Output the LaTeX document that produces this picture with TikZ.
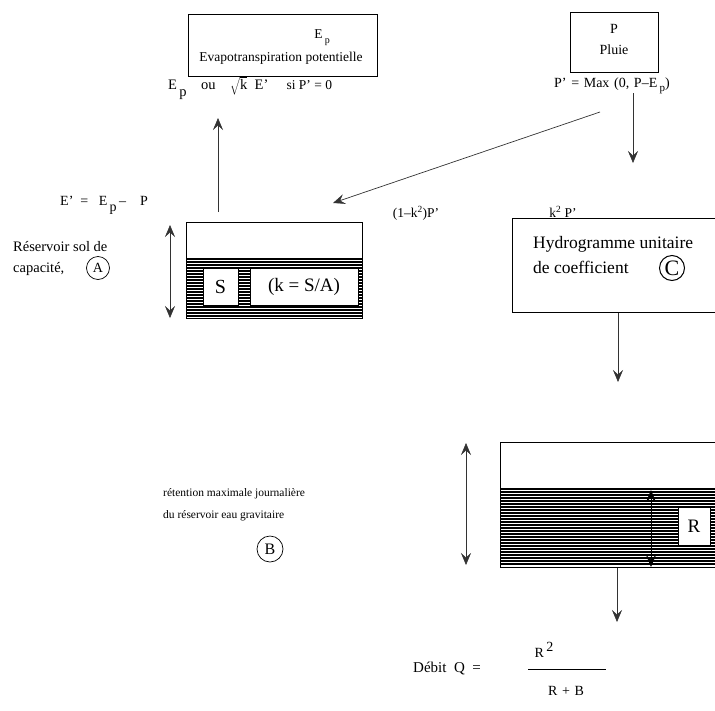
\documentclass[tikz,border=0pt]{standalone}
\usepackage{fontspec}
\setmainfont{Liberation Serif}
\usetikzlibrary{arrows.meta}
\newcommand{\fs}[1]{\fontsize{#1}{#1}\selectfont}
\begin{document}
\begin{tikzpicture}[x=1pt,y=-1pt,
  every node/.style={font=\fs{13.5}, inner sep=0pt},
  boxline/.style={draw=black, line width=0.8pt},
  thinarrow/.style={draw=black!80, line width=0.5pt, -{Stealth[length=12pt,width=10pt,inset=4.5pt]}},
  dblarrow/.style={draw=black!80, line width=0.5pt, {Stealth[length=12pt,width=10pt,inset=4.5pt]}-{Stealth[length=12pt,width=10pt,inset=4.5pt]}},
  whitebox/.style={draw=black, line width=0.6pt, fill=white},
  lab/.style={circle, draw=black, line width=0.7pt, minimum size=23pt, inner sep=0pt}
]
\useasboundingbox (0,0) rectangle (715,710);
\clip (0,0) rectangle (715,710);
% --- top boxes
\node[boxline, minimum width=189pt, minimum height=62pt] (ep) at (282.5,45) {};
\node (eptxt) at (322,38) {E\,\raisebox{-5pt}{\fs{10}p}};
\node (evap) at (281,58) {Evapotranspiration potentielle};
\node[boxline, minimum width=88pt, minimum height=60pt] (pbox) at (614,42) {};
\node[font=\fs{14}] (ptxt) at (614,29) {P};
\node[font=\fs{14}] (pluie) at (614,50) {Pluie};
\node[font=\fs{14}] (pprime) at (612,86) {P'\,\,=\,\,Max\,\,(0,\,\,P--E\,\raisebox{-4pt}{\fs{11}p})};
\node[font=\fs{14.5}, anchor=west] (eptop) at (168,88) {E\,\raisebox{-7pt}{p}\quad ou\quad $\sqrt{\mathrm{k}\vphantom{|}}$\ \ E'\quad\ \fs{13.5}si P' = 0};
% --- arrows from top
\coordinate (evapbot) at (218,212);
\coordinate (evaptip) at (218,118);
\draw[thinarrow] (evapbot) -- (evaptip);
\coordinate (pstart) at (600,112);
\coordinate (ptoA) at (333,203);
\draw[thinarrow, line width=0.7pt] (pstart) -- (ptoA);
\coordinate (pdown0) at (633,93);
\coordinate (pdown1) at (633,163);
\draw[thinarrow] (pdown0) -- (pdown1);
\node[font=\fs{14}, anchor=west] (eprime) at (60,205) {E'\ \ =\ \ \ E\,\raisebox{-6pt}{p}\,--\ \ \ \ P};
\node (onemk) at (416,213) {(1--k\textsuperscript{2})P'};
\node (k2p) at (563,212) {k\textsuperscript{2} P'};
% --- soil reservoir
\draw[boxline] (186,222) rectangle (362,318);
\foreach \y in {259,262,...,317} \draw[line width=1.5pt] (186,\y) -- (362,\y);
\node[whitebox, minimum width=35pt, minimum height=37pt, font=\fs{20}] (S) at (220.5,286.5) {S};
\node[whitebox, minimum width=108pt, minimum height=37pt, font=\fs{19}] (kSA) at (304,286.5) {(k = S/A)};
\coordinate (sola) at (170,225);
\coordinate (solb) at (170,318);
\draw[dblarrow] (sola) -- (solb);
\node[anchor=west, font=\fs{14.5}] (res1) at (13,247) {Réservoir sol de};
\node[anchor=west, font=\fs{14.5}] (res2) at (13,269) {capacité,};
\node[lab, font=\fs{14}] (A) at (98,268) {A};
% --- hydrogramme
\draw[boxline] (512,218) rectangle (740,312);
\node[anchor=west, font=\fs{17.5}] (hy1) at (533,244) {Hydrogramme unitaire};
\node[anchor=west, font=\fs{17.5}] (hy2) at (533,267) {de coefficient};
\node[lab, line width=1pt, minimum size=25pt, font=\fs{22}] (C) at (672,268) {C};
\coordinate (hyd0) at (618,313);
\coordinate (hyd1) at (618,382);
\draw[thinarrow] (hyd0) -- (hyd1);
% --- gravity reservoir
\draw[boxline] (500,442) rectangle (740,567);
\foreach \y in {489,492,...,566} \draw[line width=1.5pt] (500,\y) -- (740,\y);
\coordinate (rin0) at (651,490);
\coordinate (rin1) at (651,567);
\draw[dblarrow, draw=black, line width=0.8pt] (rin0) -- (rin1);
\node[whitebox, minimum width=32pt, minimum height=38pt, font=\fs{19}] (R) at (694,526) {R};
\coordinate (gra) at (466,443);
\coordinate (grb) at (466,565);
\draw[dblarrow] (gra) -- (grb);
\node[anchor=west, font=\fs{11.5}] (ret1) at (163,494) {rétention maximale journalière};
\node[anchor=west, font=\fs{11.5}] (ret2) at (163,516) {du réservoir eau gravitaire};
\node[lab, minimum size=26pt, font=\fs{16}] (B) at (270,549) {B};
\coordinate (q0) at (617,568);
\coordinate (q1) at (617,622);
\draw[thinarrow] (q0) -- (q1);
% --- debit
\node[font=\fs{15}, anchor=west] (deb) at (413,668) {Débit\ \ Q\ \ =};
\node[font=\fs{14}] (r2) at (544,650) {R\,\raisebox{6pt}{2}};
\coordinate (fr0) at (528,669);
\coordinate (fr1) at (606,669);
\draw[line width=0.6pt] (fr0) -- (fr1);
\node[font=\fs{14}] (rb) at (566,691) {R\,\,+\,\,B};
\end{tikzpicture}
\end{document}
